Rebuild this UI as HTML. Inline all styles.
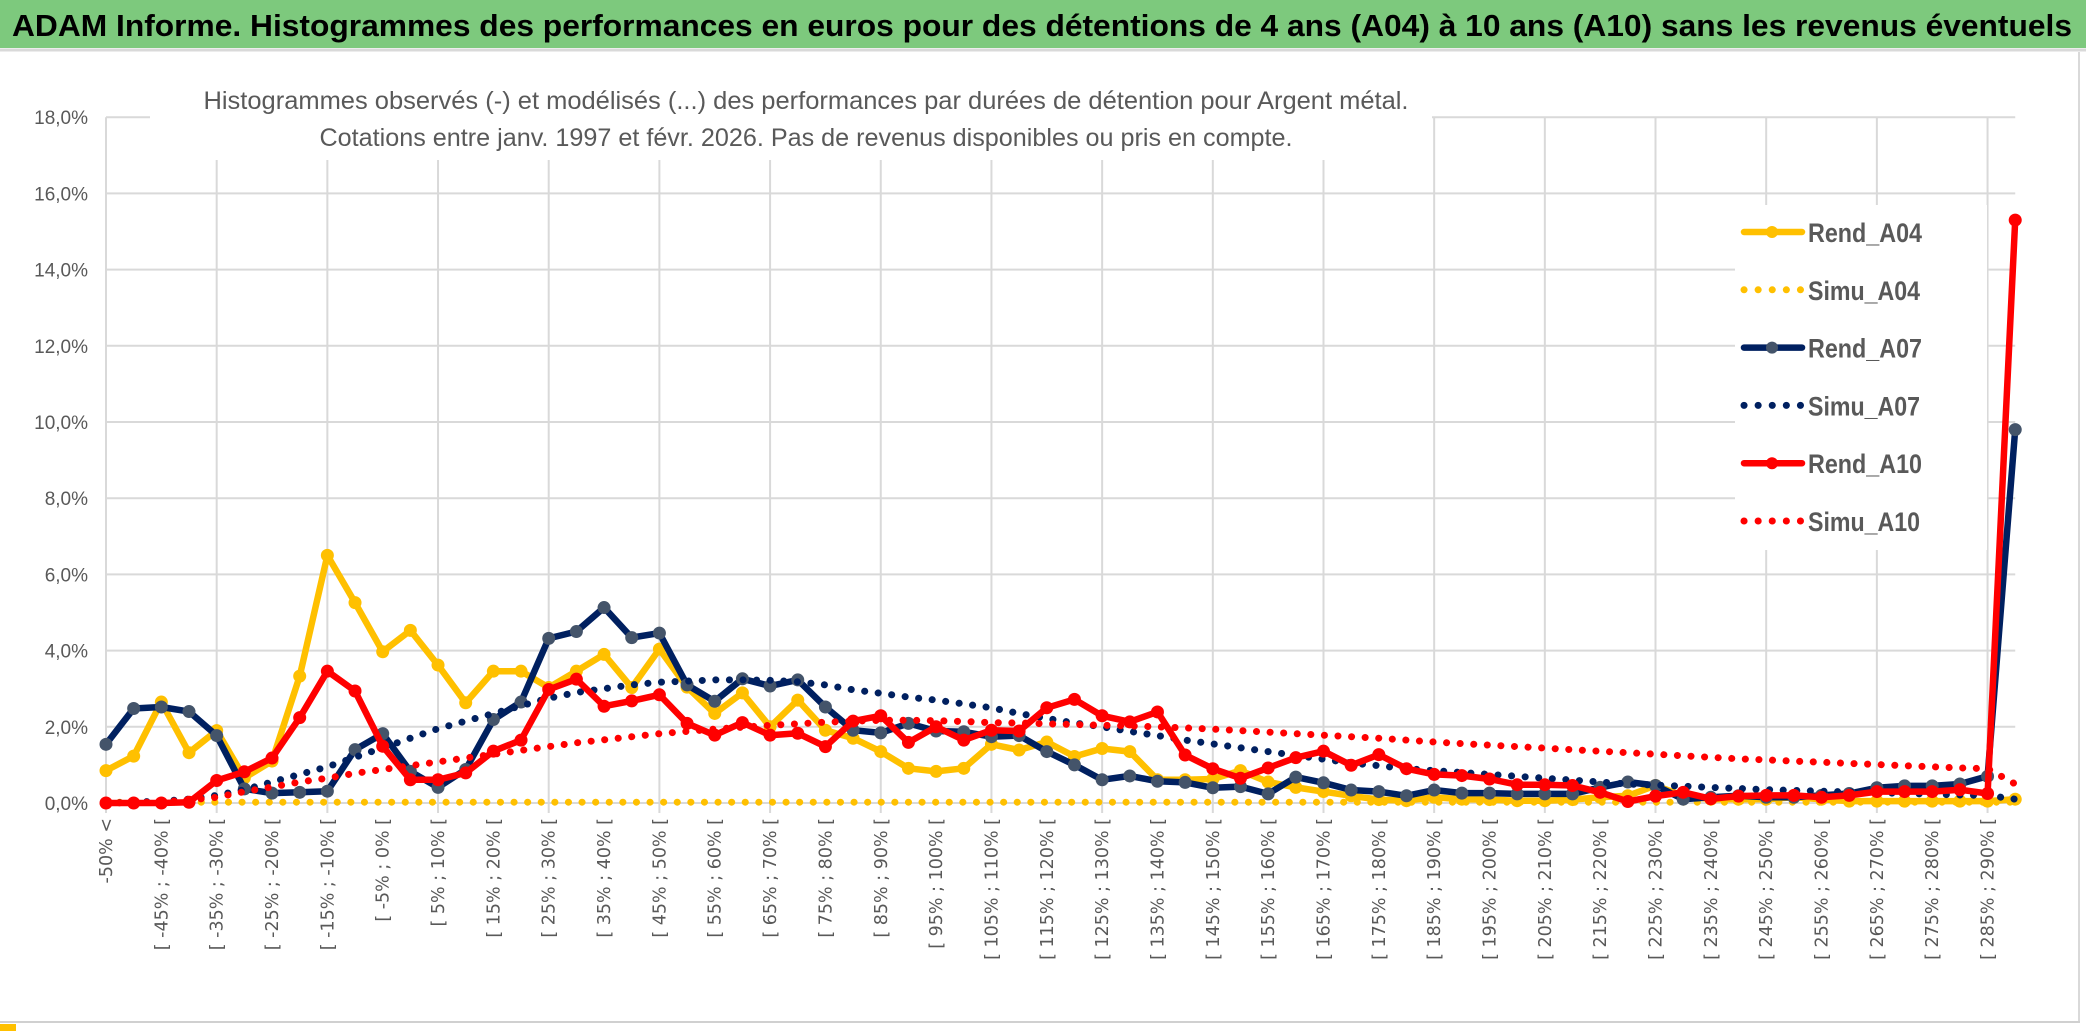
<!DOCTYPE html>
<html><head><meta charset="utf-8"><style>
html,body{margin:0;padding:0;background:#fff;width:2086px;height:1031px;overflow:hidden}
svg{display:block}
</style></head><body>
<svg id="chart" width="2086" height="1031" viewBox="0 0 2086 1031" xmlns="http://www.w3.org/2000/svg">
<rect x="0" y="0" width="2086" height="1031" fill="#fff"/>
<rect x="0" y="0" width="2086" height="48" fill="#7DC97D"/>
<line x1="0" y1="50" x2="2086" y2="50" stroke="#d9d9d9" stroke-width="3"/>
<text x="12" y="36" font-family="Liberation Sans, sans-serif" font-weight="bold" font-size="31" fill="#000" textLength="2060" lengthAdjust="spacingAndGlyphs">ADAM Informe. Histogrammes des performances en euros pour des détentions de 4 ans (A04) à 10 ans (A10) sans les revenus éventuels</text>
<line x1="2079" y1="52" x2="2079" y2="1022" stroke="#d9d9d9" stroke-width="2"/>
<line x1="0" y1="1022" x2="2080" y2="1022" stroke="#d0d0d0" stroke-width="2"/>
<rect x="0" y="1024" width="16" height="7" fill="#FFC000"/>
<g id="grid"></g>
<g id="yaxis"></g>
<g id="xaxis"></g>
<rect x="150" y="80" width="1282" height="80" fill="#fff"/>
<text x="806" y="109" text-anchor="middle" font-family="Liberation Sans, sans-serif" font-size="25" fill="#595959" textLength="1205" lengthAdjust="spacingAndGlyphs">Histogrammes observés (-) et modélisés (...) des performances par durées de détention pour Argent métal.</text>
<text x="806" y="146" text-anchor="middle" font-family="Liberation Sans, sans-serif" font-size="25" fill="#595959" textLength="973" lengthAdjust="spacingAndGlyphs">Cotations entre janv. 1997 et févr. 2026. Pas de revenus disponibles ou pris en compte.</text>
<g id="series"></g>
<g id="legend"></g>
</svg>
<script>
const yTicks = [0,2,4,6,8,10,12,14,16,18];
const yTickLabels = ["0,0%","2,0%","4,0%","6,0%","8,0%","10,0%","12,0%","14,0%","16,0%","18,0%"];
const rendA04 = [0.85,1.23,2.65,1.32,1.9,0.66,1.1,3.33,6.5,5.26,3.97,4.53,3.62,2.63,3.46,3.46,3.03,3.46,3.9,3.03,
4.04,3.04,2.35,2.89,2.0,2.7,1.91,1.7,1.35,0.91,0.83,0.91,1.54,1.39,1.6,1.22,1.43,1.35,0.61,0.61,
0.63,0.85,0.55,0.41,0.3,0.19,0.09,0.06,0.15,0.1,0.09,0.06,0.06,0.09,0.15,0.19,0.46,0.19,0.1,0.1,
0.1,0.15,0.1,0.05,0.05,0.05,0.05,0.05,0.05,0.1];
const simuA04 = [0.02,0.02,0.02,0.02,0.02,0.02,0.02,0.02,0.02,0.02,0.02,0.02,0.02,0.02,0.02,0.02,0.02,0.02,0.02,0.02,
0.02,0.02,0.02,0.02,0.02,0.02,0.02,0.02,0.02,0.02,0.02,0.02,0.02,0.02,0.02,0.02,0.02,0.02,0.02,0.02,
0.02,0.02,0.02,0.02,0.02,0.02,0.02,0.02,0.02,0.02,0.02,0.02,0.02,0.02,0.02,0.02,0.02,0.02,0.02,0.02,
0.02,0.02,0.02,0.02,0.02,0.02,0.02,0.02,0.02,0.02];
const rendA07 = [1.54,2.48,2.52,2.4,1.77,0.37,0.26,0.28,0.31,1.4,1.82,0.83,0.41,0.88,2.19,2.65,4.32,4.5,5.13,4.34,
4.46,3.1,2.67,3.26,3.07,3.23,2.52,1.91,1.84,2.09,1.89,1.87,1.74,1.77,1.35,1.0,0.61,0.71,0.57,0.54,
0.4,0.43,0.24,0.68,0.53,0.34,0.3,0.19,0.34,0.26,0.26,0.24,0.24,0.24,0.41,0.55,0.46,0.1,0.15,0.19,
0.15,0.15,0.2,0.25,0.4,0.45,0.45,0.5,0.7,9.8];
const simuA07 = [0,0.02,0.05,0.1,0.2,0.35,0.55,0.75,0.95,1.2,1.45,1.7,1.95,2.15,2.35,2.55,2.75,2.9,3.0,3.1,
3.17,3.2,3.23,3.23,3.22,3.18,3.1,2.97,2.88,2.78,2.7,2.6,2.5,2.35,2.22,2.1,2.0,1.88,1.77,1.65,
1.55,1.45,1.35,1.25,1.15,1.05,0.98,0.9,0.85,0.8,0.75,0.7,0.65,0.6,0.55,0.5,0.47,0.44,0.41,0.38,
0.35,0.33,0.31,0.29,0.27,0.25,0.23,0.21,0.2,0.1];
const rendA10 = [0,0,0,0.02,0.59,0.82,1.18,2.24,3.46,2.94,1.49,0.61,0.61,0.79,1.36,1.65,2.98,3.25,2.54,2.68,
2.84,2.09,1.78,2.11,1.78,1.83,1.48,2.15,2.29,1.59,2.0,1.65,1.91,1.89,2.5,2.72,2.29,2.13,2.39,1.26,
0.9,0.65,0.92,1.19,1.36,0.99,1.27,0.9,0.75,0.72,0.63,0.48,0.48,0.46,0.28,0.04,0.18,0.28,0.11,0.18,
0.2,0.2,0.15,0.2,0.3,0.3,0.3,0.35,0.25,15.3];
const simuA10 = [0,0.01,0.03,0.08,0.15,0.3,0.42,0.55,0.65,0.78,0.88,0.98,1.08,1.18,1.28,1.38,1.48,1.58,1.66,1.74,
1.82,1.88,1.94,1.99,2.04,2.08,2.12,2.15,2.17,2.17,2.16,2.14,2.11,2.1,2.08,2.06,2.04,2.02,2.0,1.97,
1.94,1.9,1.86,1.82,1.78,1.74,1.7,1.65,1.6,1.56,1.52,1.48,1.44,1.4,1.36,1.32,1.28,1.24,1.2,1.16,
1.13,1.1,1.07,1.04,1.01,0.98,0.95,0.92,0.9,0.5];
const seriesNames = ["Rend_A04","Simu_A04","Rend_A07","Simu_A07","Rend_A10","Simu_A10"];

const categories = ["-50% <"];
for (let i = 1; i < 69; i++) { const a = -55 + 5*i; categories.push("[ " + a + "% ; " + (a+5) + "% ["); }
categories.push("> 290%");

const NS = "http://www.w3.org/2000/svg";
const X0 = 106, DX = 27.67, Y0 = 803, YPER = 38.1;
function xPos(i){ return X0 + i*DX; }
function yPos(v){ return Y0 - v*YPER; }
function mk(tag, attrs, parent){ const e = document.createElementNS(NS, tag); for (const k in attrs) e.setAttribute(k, attrs[k]); parent.appendChild(e); return e; }

const grid = document.getElementById('grid');
const yaxis = document.getElementById('yaxis');
const xaxis = document.getElementById('xaxis');
const xEnd = xPos(categories.length - 1);
yTicks.forEach((t, k) => {
  const l = mk('line', {x1: X0, x2: xEnd, y1: yPos(t), y2: yPos(t), stroke: '#d9d9d9', 'stroke-width': 2}, grid);
  
  
  const tx = mk('text', {x: 88, y: yPos(t) + 7, 'text-anchor': 'end', 'font-family': 'Liberation Sans, sans-serif', 'font-size': 19, fill: '#595959'}, yaxis);
  tx.textContent = yTickLabels[k];
  
  
});
for (let i = 0; i < categories.length; i += 4) {
  const l = mk('line', {x1: xPos(i), x2: xPos(i), y1: yPos(18), y2: Y0 + 10, stroke: '#d9d9d9', 'stroke-width': 2}, grid);
  
  
}
categories.forEach((c, i) => {
  if (i % 2) return;
  const x = xPos(i) + 6, y = 818;
  const tx = mk('text', {x: x, y: y, transform: 'rotate(-90 ' + x + ' ' + y + ')', 'text-anchor': 'end', 'font-family': 'DejaVu Sans, sans-serif', 'font-size': 17.5, fill: '#595959'}, xaxis);
  tx.textContent = c;
  
  
});

const sg = document.getElementById('series');
function pts(arr){ return arr.map((v, i) => xPos(i).toFixed(1) + ',' + yPos(v).toFixed(1)).join(' '); }
function drawRend(arr, color, mcolor, name){
  const p = mk('polyline', {points: pts(arr), fill: 'none', stroke: color, 'stroke-width': 6.5, 'stroke-linejoin': 'round'}, sg);
  
  
  arr.forEach((v, i) => {
    const c = mk('circle', {cx: xPos(i), cy: yPos(v), r: 6.5, fill: mcolor}, sg);
    
    
  });
}
function drawSimu(arr, color, name){
  const p = mk('polyline', {points: pts(arr), fill: 'none', stroke: color, 'stroke-width': 7, 'stroke-linecap': 'round', 'stroke-dasharray': '0.1 13.5'}, sg);
  
  
}
drawRend(rendA04, '#FFC000', '#FFC000', 'rend-a04');
drawSimu(simuA04, '#FFC000', 'simu-a04');
drawRend(rendA07, '#002060', '#44546A', 'rend-a07');
drawSimu(simuA07, '#002060', 'simu-a07');
drawRend(rendA10, '#FF0000', '#FF0000', 'rend-a10');
drawSimu(simuA10, '#FF0000', 'simu-a10');

const lg = document.getElementById('legend');
const lbg = mk('rect', {x: 1735, y: 205, width: 252, height: 345, fill: '#fff'}, lg);


const lColors = ['#FFC000','#FFC000','#002060','#002060','#FF0000','#FF0000'];
const lMarkers = ['#FFC000',null,'#44546A',null,'#FF0000',null];
seriesNames.forEach((n, k) => {
  const y = 232 + k*57.8;
  const g = mk('g', {}, lg);
  
  
  if (k % 2 === 0) {
    mk('line', {x1: 1744, x2: 1802, y1: y, y2: y, stroke: lColors[k], 'stroke-width': 6.5, 'stroke-linecap': 'round'}, g);
    mk('circle', {cx: 1772, cy: y, r: 6, fill: lMarkers[k]}, g);
  } else {
    mk('line', {x1: 1744, x2: 1802, y1: y, y2: y, stroke: lColors[k], 'stroke-width': 7, 'stroke-linecap': 'round', 'stroke-dasharray': '0.1 14'}, g);
  }
  const t = mk('text', {x: 1808, y: y + 10, 'font-family': 'Liberation Sans, sans-serif', 'font-size': 27, 'font-weight': 'bold', fill: '#595959', textLength: (n.startsWith('Rend') ? 114 : 112), lengthAdjust: 'spacingAndGlyphs'}, g);
  t.textContent = n;
});
</script>
</body></html>
